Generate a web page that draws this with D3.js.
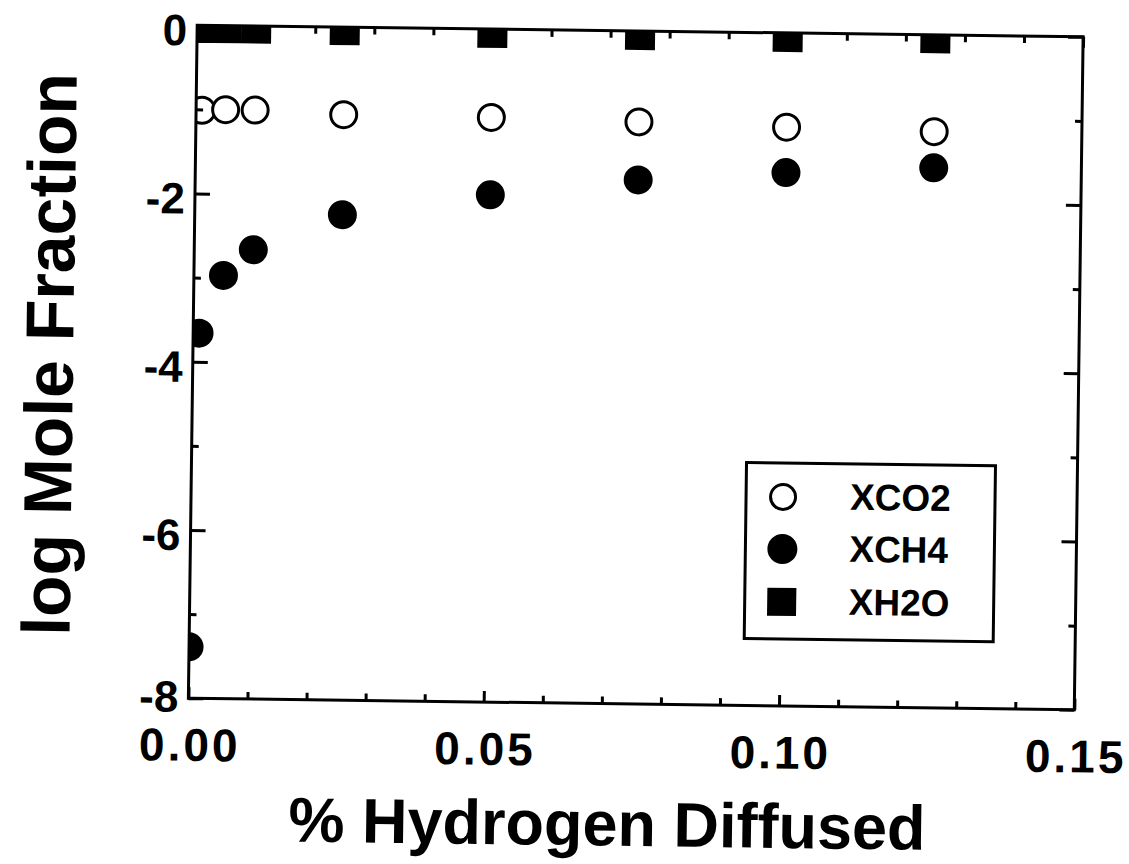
<!DOCTYPE html>
<html>
<head>
<meta charset="utf-8">
<script src="https://cdn.jsdelivr.net/npm/d3@7"></script>
<style>
  body { margin: 0; background: #fff; }
  text { font-family: "Liberation Sans", Arial, Helvetica, sans-serif; font-weight: bold; }
</style>
</head>
<body>
<svg id="chart" width="1129" height="864"></svg>
<script>
// values
const xCO2 = [0.001, 0.005, 0.01, 0.025, 0.05, 0.075, 0.1, 0.125];
const yCO2 = [-1.01, -1.00, -1.00, -1.04, -1.05, -1.08, -1.12, -1.15];

const xCH4 = [0, 0.001, 0.005, 0.01, 0.025, 0.05, 0.075, 0.1, 0.125];
const yCH4 = [-7.39, -3.66, -2.97, -2.66, -2.23, -1.97, -1.77, -1.66, -1.58];

const xH2O = [0, 0.001, 0.005, 0.01, 0.025, 0.05, 0.075, 0.1, 0.125];
const yH2O = [-0.03, -0.03, -0.03, -0.03, -0.035, -0.045, -0.048, -0.048, -0.04];

const xMajorTicks = [0, 0.05, 0.10, 0.15];
const xMinorTicks = [0.01, 0.02, 0.03, 0.04, 0.06, 0.07, 0.08, 0.09, 0.11, 0.12, 0.13, 0.14];
const yMajorTicks = [0, -2, -4, -6, -8];
const yMinorTicks = [-1, -3, -5, -7];

const legendNames = ["XCO2", "XCH4", "XH2O"];

const margin = { left: 192.75, top: 31 };
const width = 886, height = 673;
const tilt = 0.75; // the scan sits slightly crooked

const svg = d3.select("#chart");
const root = svg.append("g")
    .attr("transform", `rotate(${tilt},${margin.left + width / 2},${margin.top + height / 2})`);
const plot = root.append("g")
    .attr("transform", `translate(${margin.left},${margin.top})`);

const x = d3.scaleLinear().domain([0, 0.15]).range([0, width]);
const y = d3.scaleLinear().domain([-8, 0]).range([height, 0]);

plot.append("clipPath").attr("id", "clip")
    .append("rect").attr("width", width).attr("height", height);

const marks = plot.append("g").attr("clip-path", "url(#clip)");

// XH2O squares
const sq = 30;
marks.selectAll("rect.h2o")
    .data(d3.zip(xH2O, yH2O))
    .join("rect")
    .attr("class", "h2o")
    .attr("x", d => x(d[0]) - sq / 2)
    .attr("y", d => y(d[1]) - sq / 2)
    .attr("width", sq)
    .attr("height", sq)
    .attr("fill", "#000");

// XCH4 filled circles
marks.selectAll("circle.ch4")
    .data(d3.zip(xCH4, yCH4))
    .join("circle")
    .attr("class", "ch4")
    .attr("cx", d => x(d[0]))
    .attr("cy", d => y(d[1]))
    .attr("r", 14.5)
    .attr("fill", "#000");

// XCO2 open circles
marks.selectAll("circle.co2")
    .data(d3.zip(xCO2, yCO2))
    .join("circle")
    .attr("class", "co2")
    .attr("cx", d => x(d[0]))
    .attr("cy", d => y(d[1]))
    .attr("r", 13)
    .attr("fill", "#fff")
    .attr("stroke", "#000")
    .attr("stroke-width", 3);

function styleAxis(sel, fontSize) {
    sel.select(".domain").remove();
    sel.attr("font-family", null).attr("font-size", fontSize || 10);
    sel.selectAll("line").attr("stroke", "#000").attr("stroke-width", 3);
    sel.selectAll("text").attr("fill", "#000");
}

// bottom
plot.append("g").attr("transform", `translate(0,${height})`)
    .call(d3.axisBottom(x).tickValues(xMinorTicks).tickSize(-7).tickFormat(""))
    .call(styleAxis);
plot.append("g").attr("transform", `translate(0,${height})`)
    .call(d3.axisBottom(x).tickValues(xMajorTicks).tickSize(-11).tickPadding(30)
        .tickFormat(d3.format(".2f")))
    .call(styleAxis, 46)
    .selectAll("text").attr("letter-spacing", 3).attr("dx", 1.5);

// top
plot.append("g")
    .call(d3.axisTop(x).tickValues(xMinorTicks).tickSize(-7).tickFormat(""))
    .call(styleAxis);
plot.append("g")
    .call(d3.axisTop(x).tickValues(xMajorTicks).tickSize(-11).tickFormat(""))
    .call(styleAxis);

// left
plot.append("g")
    .call(d3.axisLeft(y).tickValues(yMinorTicks).tickSize(-7).tickFormat(""))
    .call(styleAxis);
plot.append("g")
    .call(d3.axisLeft(y).tickValues(yMajorTicks).tickSize(-15).tickPadding(10)
        .tickFormat(d => String(d)))
    .call(styleAxis, 44)
    .selectAll("text").attr("dy", d => d === -8 ? "0.3em" : "0.45em");

// right
plot.append("g").attr("transform", `translate(${width},0)`)
    .call(d3.axisRight(y).tickValues(yMinorTicks).tickSize(-7).tickFormat(""))
    .call(styleAxis);
plot.append("g").attr("transform", `translate(${width},0)`)
    .call(d3.axisRight(y).tickValues(yMajorTicks).tickSize(-15).tickFormat(""))
    .call(styleAxis);

// frame
plot.append("rect")
    .attr("width", width)
    .attr("height", height)
    .attr("fill", "none")
    .attr("stroke", "#000")
    .attr("stroke-width", 3);

// legend
const legW = 249, legH = 176;
const legend = plot.append("g")
    .attr("transform", `translate(${width - 82 - legW},${height - 67 - legH})`);
legend.append("rect")
    .attr("width", legW)
    .attr("height", legH)
    .attr("fill", "#fff")
    .attr("stroke", "#000")
    .attr("stroke-width", 3);

const rowY = [34, 86, 139];
legend.append("circle").attr("cx", 37).attr("cy", rowY[0]).attr("r", 12.5)
    .attr("fill", "#fff").attr("stroke", "#000").attr("stroke-width", 3);
legend.append("circle").attr("cx", 37).attr("cy", rowY[1]).attr("r", 15).attr("fill", "#000");
legend.append("rect").attr("x", 37 - 14.5).attr("y", rowY[2] - 14).attr("width", 29).attr("height", 28)
    .attr("fill", "#000");

legend.selectAll("text.name")
    .data(legendNames)
    .join("text")
    .attr("class", "name")
    .attr("x", 104)
    .attr("y", (d, i) => rowY[i] + 12)
    .attr("font-size", 37)
    .text(d => d);

// axis titles
root.append("text")
    .attr("x", 613)
    .attr("y", 846)
    .attr("text-anchor", "middle")
    .attr("font-size", 63)
    .text("% Hydrogen Diffused");

root.append("text")
    .attr("transform", "translate(73,362) rotate(-90)")
    .attr("text-anchor", "middle")
    .attr("font-size", 68)
    .text("log Mole Fraction");
</script>
</body>
</html>
